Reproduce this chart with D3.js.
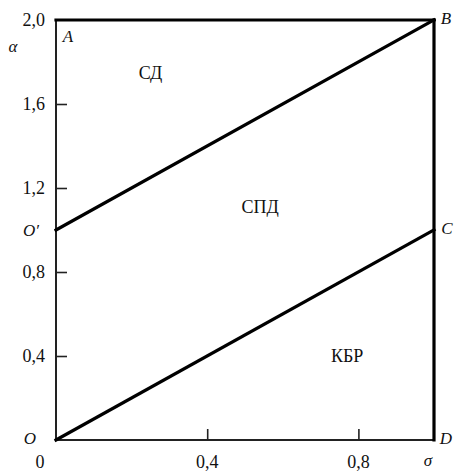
<!DOCTYPE html>
<html>
<head>
<meta charset="utf-8">
<script src="https://cdn.jsdelivr.net/npm/d3@7"></script>
<style>
  body { margin: 0; background: #fff; }
  svg text { font-family: "Liberation Serif", "Times New Roman", Times, "DejaVu Serif", serif; fill: #111; }
  .tick-label { font-size: 18px; }
  .pt-label, .axis-name { font-size: 17px; font-style: italic; }
  .region { font-size: 18px; }
</style>
</head>
<body>
<svg id="chart" width="457" height="472"></svg>
<script>
// data
const xTicks = [0.4, 0.8];
const xTickLabels = ["0,4", "0,8"];
const yTicks = [0.4, 0.8, 1.2, 1.6, 2.0];
const yTickLabels = ["0,4", "0,8", "1,2", "1,6", "2,0"];
// boundary lines (sigma, alpha)
const lineO1B = [[0, 1], [1, 2]];
const lineOC = [[0, 0], [1, 1]];
const lineTop = [[0, 2], [1, 2]];
const lineRight = [[1, 0], [1, 2]];
// named points
const pointNames = ["A", "B", "C", "D", "O", "O\u2032"];
const pointSigma = [0, 1, 1, 1, 0, 0];
const pointAlpha = [2, 2, 1, 0, 0, 1];
// regions
const regionNames = ["СД", "СПД", "КБР"];
const regionSigma = [0.25, 0.54, 0.77];
const regionAlpha = [1.74, 1.1, 0.39];

const svg = d3.select("#chart");
const margin = {left: 56, right: 23, top: 20, bottom: 32};
const W = 457, H = 472;

const x = d3.scaleLinear().domain([0, 1]).range([margin.left, W - margin.right]);
const y = d3.scaleLinear().domain([0, 2]).range([H - margin.bottom, margin.top]);

// axes: ticks pointing into the plot
svg.append("g")
  .attr("transform", `translate(${x(0)},0)`)
  .call(d3.axisRight(y).tickValues(yTicks.slice(0, 4)).tickSize(11).tickFormat(""))
  .call(g => g.select(".domain").remove())
  .call(g => g.selectAll(".tick line").attr("stroke", "#222").attr("stroke-width", 1.6));

svg.append("g")
  .attr("transform", `translate(0,${y(0)})`)
  .call(d3.axisTop(x).tickValues(xTicks).tickSize(11).tickFormat(""))
  .call(g => g.select(".domain").remove())
  .call(g => g.selectAll(".tick line").attr("stroke", "#222").attr("stroke-width", 1.6));

// axis lines
const line = d3.line().x(d => x(d[0])).y(d => y(d[1]));
svg.append("path").attr("d", line([[0, 0], [0, 2]]))
  .attr("stroke", "#222").attr("stroke-width", 2).attr("fill", "none");
svg.append("path").attr("d", line([[0, 0], [1, 0]]))
  .attr("stroke", "#222").attr("stroke-width", 2).attr("fill", "none");

// thick boundary lines
[lineTop, lineRight, lineO1B, lineOC].forEach(pts => {
  svg.append("path").attr("d", line(pts))
    .attr("stroke", "#000").attr("stroke-width", 3.2)
    .attr("fill", "none").attr("stroke-linecap", "square");
});

// tick labels
svg.append("g").selectAll("text")
  .data(yTicks)
  .join("text")
  .attr("class", "tick-label")
  .attr("x", x(0) - 11)
  .attr("y", d => y(d) + 2)
  .attr("text-anchor", "end")
  .attr("dominant-baseline", "middle")
  .text((d, i) => yTickLabels[i]);

svg.append("g").selectAll("text")
  .data(xTicks)
  .join("text")
  .attr("class", "tick-label")
  .attr("x", d => x(d))
  .attr("y", y(0) + 24)
  .attr("text-anchor", "middle")
  .attr("dominant-baseline", "middle")
  .text((d, i) => xTickLabels[i]);

svg.append("text").attr("class", "tick-label")
  .attr("x", 40).attr("y", y(0) + 24)
  .attr("text-anchor", "middle").attr("dominant-baseline", "middle")
  .text("0");

// axis names
svg.append("text").attr("class", "axis-name")
  .attr("x", 13).attr("y", 48)
  .attr("text-anchor", "middle").attr("dominant-baseline", "middle")
  .text("α");
svg.append("text").attr("class", "axis-name")
  .attr("x", 428).attr("y", 462)
  .attr("text-anchor", "middle").attr("dominant-baseline", "middle")
  .text("σ");

// point labels
const ptOffset = {
  "A": [12, 18], "B": [12, 0], "C": [13, 0], "D": [12, 0], "O": [-26, 0], "O\u2032": [-25, 2]
};
svg.append("g").selectAll("text")
  .data(pointNames)
  .join("text")
  .attr("class", "pt-label")
  .attr("x", (d, i) => x(pointSigma[i]) + ptOffset[d][0])
  .attr("y", (d, i) => y(pointAlpha[i]) + ptOffset[d][1])
  .attr("text-anchor", "middle")
  .attr("dominant-baseline", "middle")
  .text(d => d);

// region labels
svg.append("g").selectAll("text")
  .data(regionNames)
  .join("text")
  .attr("class", "region")
  .attr("x", (d, i) => x(regionSigma[i]))
  .attr("y", (d, i) => y(regionAlpha[i]))
  .attr("text-anchor", "middle")
  .attr("dominant-baseline", "middle")
  .text(d => d);
</script>
</body>
</html>
